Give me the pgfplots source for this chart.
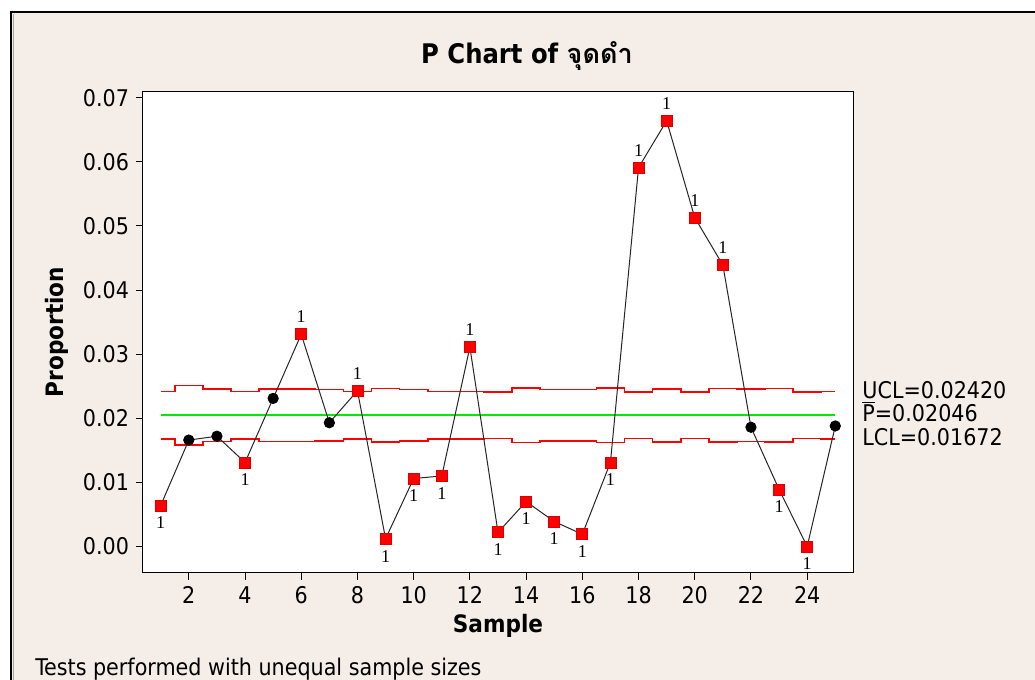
\documentclass[border=0pt]{standalone}
\usepackage{fontspec}
\usepackage{pgfplots}
\pgfplotsset{compat=1.18}
\usepackage{pgfplotstable}
\setmainfont{DejaVu Sans Condensed}
\newfontfamily\thaifont[Script=Thai]{Loma}
\newfontfamily\onefont{Liberation Serif}
\definecolor{bgbeige}{RGB}{245,237,232}
\definecolor{ptred}{RGB}{255,0,0}
\definecolor{centergreen}{RGB}{0,235,0}

% sample, proportion, upper and lower control limits
\pgfplotstableread{
s p ucl lcl
1 0.0064 0.02420 0.01672
2 0.0166 0.02508 0.01584
3 0.0172 0.02452 0.01640
4 0.0131 0.02420 0.01672
5 0.0231 0.02452 0.01640
6 0.0331 0.02455 0.01637
7 0.0193 0.02447 0.01645
8 0.0243 0.02418 0.01674
9 0.0012 0.02466 0.01626
10 0.0106 0.02447 0.01645
11 0.0110 0.02420 0.01672
12 0.0311 0.02420 0.01672
13 0.0022 0.02407 0.01685
14 0.0070 0.02471 0.01621
15 0.0039 0.02449 0.01643
16 0.0019 0.02449 0.01643
17 0.0131 0.02471 0.01621
18 0.0591 0.02407 0.01685
19 0.0664 0.02460 0.01632
20 0.0513 0.02407 0.01685
21 0.0439 0.02463 0.01629
22 0.0186 0.02452 0.01640
23 0.0089 0.02463 0.01629
24 0.0000 0.02407 0.01685
25 0.0188 0.02420 0.01672
}\pchart

\begin{document}
\begin{tikzpicture}
\path[use as bounding box] (0pt,0pt) rectangle (517.5pt,-340pt);
\fill[white] (0pt,0pt) rectangle (517.5pt,-340pt);
\fill[bgbeige] (5.5pt,-6pt) rectangle (517.5pt,-340pt);
\draw[black, line width=1.2pt] (5.6pt,-340pt) -- (5.6pt,-6pt) -- (517.5pt,-6pt);
\draw[black!35, line width=0.6pt] (6.8pt,-340pt) -- (6.8pt,-6.9pt);

\begin{axis}[
    at={(71.5pt,-45.75pt)}, anchor=north west,
    scale only axis, width=355pt, height=240.5pt,
    xmin=0.37, xmax=25.63,
    ymin=-0.00406, ymax=0.07097,
    axis background/.style={fill=white},
    axis line style={black, line width=0.5pt},
    tick align=outside, tick pos=left,
    major tick length=3.5pt,
    tick style={black, line width=0.5pt},
    xtick={2,4,6,8,10,12,14,16,18,20,22,24},
    ytick={0,0.01,0.02,0.03,0.04,0.05,0.06,0.07},
    scaled y ticks=false,
    yticklabel style={/pgf/number format/.cd, fixed, fixed zerofill, precision=2},
    /pgf/number format/assume math mode=true,
    ticklabel style={font=\fontsize{11.5}{13}\selectfont},
    xlabel={Sample}, ylabel={Proportion},
    label style={font=\bfseries\fontsize{12}{14}\selectfont},
    xlabel style={at={(axis description cs:0.5,-0.110)}, anchor=center},
    ylabel style={at={(axis description cs:-0.1211,0.5)}, anchor=center},
  ]

  \addplot[draw=ptred, line width=0.8pt, const plot mark mid] table[x=s, y=ucl] {\pchart};
  \addplot[draw=ptred, line width=0.8pt, const plot mark mid] table[x=s, y=lcl] {\pchart};
  \addplot[draw=centergreen, line width=0.9pt, mark=none] table[x=s, y expr=0.02046] {\pchart};

  \addplot[black!85, line width=0.5pt, mark=none] table[x=s, y=p] {\pchart};

  % in control
  \addplot[only marks, mark=*, mark size=2.6pt, black]
    coordinates {(2,0.0166) (3,0.0172) (5,0.0231) (7,0.0193) (22,0.0186) (25,0.0188)};

  % above UCL
  \addplot[only marks, mark=square*, mark size=2.75pt,
      mark options={fill=ptred, draw=red!85!black},
      nodes near coords={1},
      every node near coord/.append style={font=\onefont\fontsize{9}{10}\selectfont,
        text=black, anchor=south, inner sep=0pt, yshift=5.5pt}]
    coordinates {(6,0.0331) (8,0.0243) (12,0.0311) (18,0.0591) (19,0.0664) (20,0.0513) (21,0.0439)};

  % below LCL
  \addplot[only marks, mark=square*, mark size=2.75pt,
      mark options={fill=ptred, draw=red!85!black},
      nodes near coords={1},
      every node near coord/.append style={font=\onefont\fontsize{9}{10}\selectfont,
        text=black, anchor=north, inner sep=0pt, yshift=-5.5pt}]
    coordinates {(1,0.0064) (4,0.0131) (9,0.0012) (10,0.0106) (11,0.0110) (13,0.0022)
      (14,0.0070) (15,0.0039) (16,0.0019) (17,0.0131) (23,0.0089) (24,0.0000)};
\end{axis}

\node[anchor=base, inner sep=0pt, font=\bfseries\fontsize{13.5}{16}\selectfont]
  at (263.5pt,-31.5pt) {P Chart of {\thaifont จุดดำ}};

\node[anchor=base west, inner sep=0pt, font=\fontsize{11.5}{13}\selectfont]
  at (431pt,-199pt) {UCL=0.02420};
\node[anchor=base west, inner sep=0pt, font=\fontsize{11.5}{13}\selectfont]
  at (431pt,-210.75pt) {$\overline{\mbox{P}}$=0.02046};
\node[anchor=base west, inner sep=0pt, font=\fontsize{11.5}{13}\selectfont]
  at (431pt,-222.5pt) {LCL=0.01672};

\node[anchor=base west, inner sep=0pt, font=\fontsize{11.5}{13}\selectfont]
  at (17.5pt,-337.5pt) {Tests performed with unequal sample sizes};
\end{tikzpicture}
\end{document}
